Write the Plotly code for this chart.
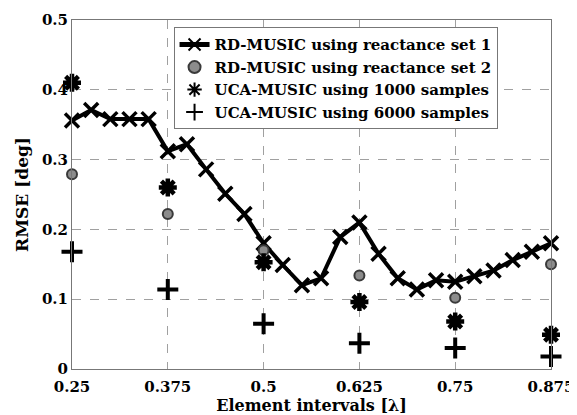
import plotly.graph_objects as go

# Data
x_dense = [0.25, 0.275, 0.3, 0.325, 0.35, 0.375, 0.4, 0.425, 0.45, 0.475, 0.5,
           0.525, 0.55, 0.575, 0.6, 0.625, 0.65, 0.675, 0.7, 0.725, 0.75,
           0.775, 0.8, 0.825, 0.85, 0.875]
rd_set1 = [0.356, 0.371, 0.358, 0.358, 0.358, 0.312, 0.322, 0.286, 0.251, 0.222, 0.180,
           0.149, 0.120, 0.130, 0.189, 0.210, 0.165, 0.130, 0.114, 0.127, 0.125,
           0.133, 0.141, 0.156, 0.168, 0.180]
x_sparse = [0.25, 0.375, 0.5, 0.625, 0.75, 0.875]
rd_set2 = [0.279, 0.222, 0.170, 0.134, 0.102, 0.150]
uca_1000 = [0.410, 0.260, 0.153, 0.096, 0.068, 0.049]
uca_6000 = [0.168, 0.114, 0.065, 0.037, 0.030, 0.018]
x_ticks = [0.25, 0.375, 0.5, 0.625, 0.75, 0.875]
x_tick_labels = ["0.25", "0.375", "0.5", "0.625", "0.75", "0.875"]
y_ticks = [0, 0.1, 0.2, 0.3, 0.4, 0.5]
y_tick_labels = ["0", "0.1", "0.2", "0.3", "0.4", "0.5"]

FONT = "DejaVu Serif, serif"

fig = go.Figure()
fig.add_trace(go.Scatter(
    x=x_dense, y=rd_set1, mode="lines+markers", cliponaxis=False,
    name="<b>RD-MUSIC using reactance set 1</b>",
    line=dict(color="black", width=4),
    marker=dict(symbol="x-thin-open", size=14, color="black",
                line=dict(color="black", width=3.5)),
))
fig.add_trace(go.Scatter(
    x=x_sparse, y=rd_set2, mode="markers", cliponaxis=False,
    name="<b>RD-MUSIC using reactance set 2</b>",
    marker=dict(symbol="circle", size=10, color="#8c8c8c",
                line=dict(color="#3a3a3a", width=2)),
))
fig.add_trace(go.Scatter(
    x=x_sparse, y=uca_1000, mode="markers", cliponaxis=False,
    name="<b>UCA-MUSIC using 1000 samples</b>",
    marker=dict(symbol="asterisk-open", size=15, color="black",
                line=dict(color="black", width=4.5)),
))
fig.add_trace(go.Scatter(
    x=x_sparse, y=uca_6000, mode="markers", cliponaxis=False,
    name="<b>UCA-MUSIC using 6000 samples</b>",
    marker=dict(symbol="cross-thin-open", size=15, color="black",
                line=dict(color="black", width=4)),
))

# page body has an 8px default margin; compensate so the plot area lands at
# x 71..550, y 19.5..369 in the window
fig.update_layout(
    width=577, height=415,
    margin=dict(l=64, r=34, t=12, b=54),
    paper_bgcolor="white", plot_bgcolor="white",
    font=dict(family=FONT, color="black", size=15),
    showlegend=True,
    legend=dict(
        x=0.212, y=0.979, xanchor="left", yanchor="top",
        bgcolor="white", bordercolor="#777777", borderwidth=1,
        font=dict(family=FONT, size=15, color="black"),
        tracegroupgap=0, itemsizing="constant",
    ),
    xaxis=dict(
        range=[0.25, 0.875], tickvals=x_ticks,
        ticktext=["<b>%s</b>" % t for t in x_tick_labels],
        showgrid=True, gridcolor="#a0a0a0", griddash="dash", gridwidth=1,
        showline=True, linecolor="#777777", linewidth=1, mirror=True,
        zeroline=False, ticks="", ticklen=0, ticklabelstandoff=4,
        automargin=False,
        title=dict(text="<b>Element intervals [λ]</b>", standoff=0,
                   font=dict(family=FONT, size=16)),
        tickfont=dict(family=FONT, size=15),
    ),
    yaxis=dict(
        range=[0, 0.5], tickvals=y_ticks,
        ticktext=["<b>%s</b>" % t for t in y_tick_labels],
        showgrid=True, gridcolor="#a0a0a0", griddash="dash", gridwidth=1,
        showline=True, linecolor="#777777", linewidth=1, mirror=True,
        zeroline=False, ticks="", ticklen=0, automargin=False,
        title=dict(text="<b>RMSE [deg]</b>", standoff=8,
                   font=dict(family=FONT, size=17)),
        tickfont=dict(family=FONT, size=15),
    ),
)

fig.write_html("out.html")
